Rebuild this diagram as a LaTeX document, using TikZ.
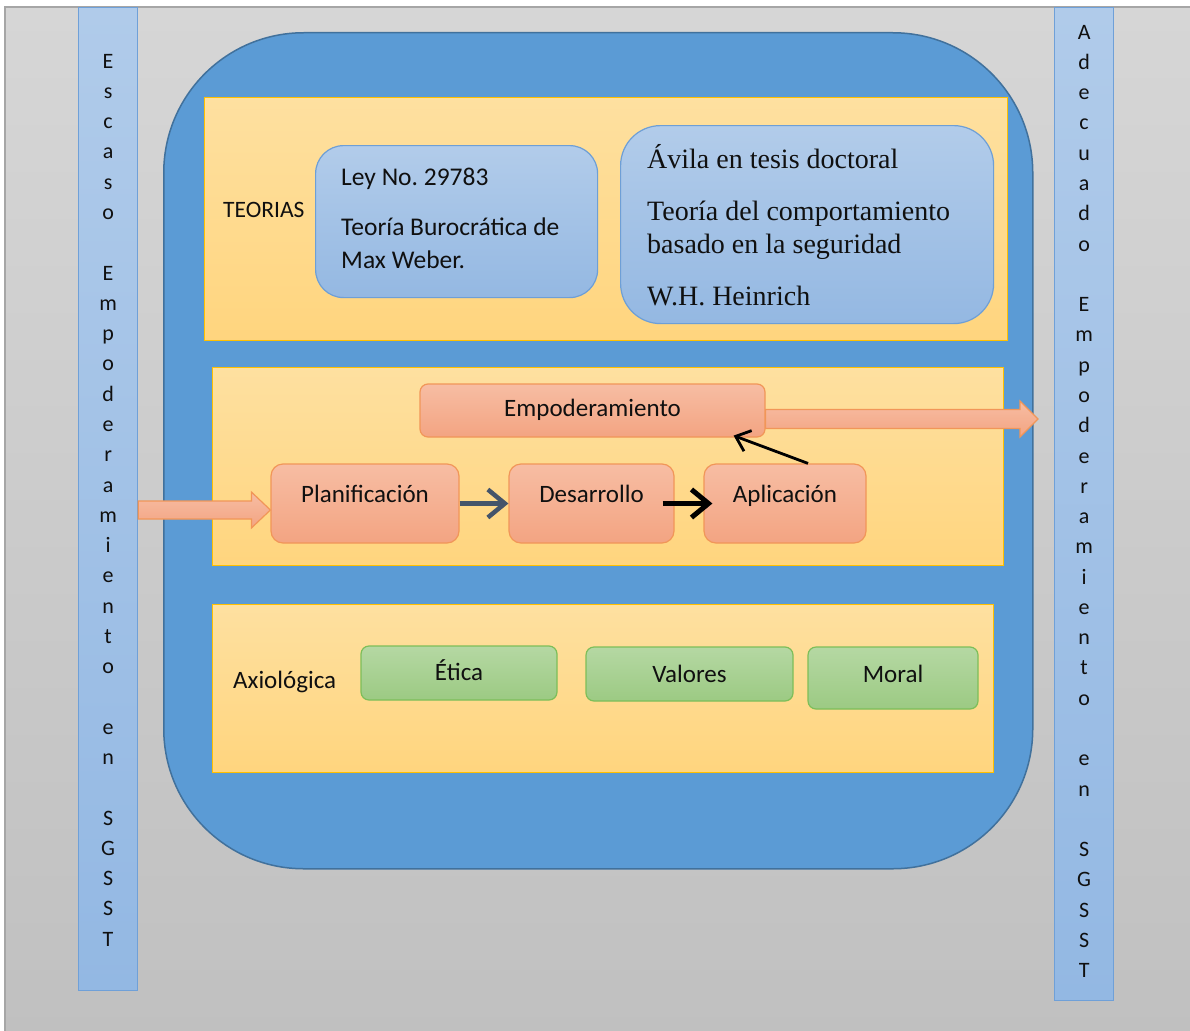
\documentclass[tikz,border=0pt]{standalone}
\usepackage{fontspec}
\setmainfont{Carlito}
\newfontfamily\serifa{Liberation Serif}
\usetikzlibrary{arrows.meta,calc}
\definecolor{bgtop}{HTML}{D6D6D6}
\definecolor{bgbot}{HTML}{C0C0C0}
\definecolor{bgline}{HTML}{A6A6A6}
\definecolor{bartop}{HTML}{B0CBEA}
\definecolor{barbot}{HTML}{93B8E3}
\definecolor{barline}{HTML}{6FA0D8}
\definecolor{bigblue}{HTML}{5B9BD5}
\definecolor{bigline}{HTML}{41719C}
\definecolor{yeltop}{HTML}{FEE0A0}
\definecolor{yelbot}{HTML}{FFD57E}
\definecolor{yelline}{HTML}{FFC000}
\definecolor{bluetop}{HTML}{B2CCEA}
\definecolor{bluebot}{HTML}{94B8E2}
\definecolor{blueline}{HTML}{6E9FD6}
\definecolor{saltop}{HTML}{F7BDA3}
\definecolor{salbot}{HTML}{F3A482}
\definecolor{salline}{HTML}{F19658}
\definecolor{grntop}{HTML}{B5D8A3}
\definecolor{grnbot}{HTML}{9CCA83}
\definecolor{grnline}{HTML}{7DBE59}
\definecolor{arrgray}{HTML}{44546A}
\definecolor{txt}{HTML}{101010}
\begin{document}
\begin{tikzpicture}[x=1pt,y=-1pt,
  every node/.style={text=txt},
  barbox/.style={draw=barline, line width=1.2pt, top color=bartop, bottom color=barbot, anchor=north west, inner sep=0},
  bartext/.style={font=\fontsize{22}{30.28}\selectfont, text width=40pt, align=center, inner sep=0, anchor=north},
  panel/.style={draw=yelline, line width=1.2pt, top color=yeltop, bottom color=yelbot, anchor=north west, inner sep=0},
  bluebox/.style={draw=blueline, line width=1.2pt, top color=bluetop, bottom color=bluebot, anchor=north west, inner sep=0},
  salbox/.style={draw=salline, line width=1.2pt, top color=saltop, bottom color=salbot, inner sep=0, rounded corners=12pt,
    font=\fontsize{25}{30}\selectfont, text height=16pt},
  grnbox/.style={draw=grnline, line width=1.2pt, top color=grntop, bottom color=grnbot, inner sep=0, rounded corners=8pt,
    font=\fontsize{25}{30}\selectfont, text height=16pt},
  sanstext/.style={font=\fontsize{25.5}{30}\selectfont, anchor=base west, inner sep=0},
  seriftext/.style={font=\serifa\fontsize{28}{32}\selectfont, anchor=base west, inner sep=0},
  blockarr/.style={draw=salline, line width=1.2pt, top color=saltop, bottom color=salbot},
]
\useasboundingbox (0,0) rectangle (1190,1030);
\fill[white] (0,0) rectangle (1190,1030);
\draw[draw=bgline, line width=1.5pt, top color=bgtop, bottom color=bgbot] (5,7) rectangle (1200,1040);

% side bars
\node[barbox, minimum width=59pt, minimum height=983pt] (lbar) at (78,7) {};
\node[barbox, minimum width=59pt, minimum height=993pt] (rbar) at (1054,7) {};
\node[bartext] (ltext) at (lbar.north |- 0,53.8) {E\\s\\c\\a\\s\\o\\~\\E\\m\\p\\o\\d\\e\\r\\a\\m\\i\\e\\n\\t\\o\\~\\e\\n\\~\\S\\G\\S\\S\\T};
\node[bartext] (rtext) at (rbar.north |- 0,24.8) {A\\d\\e\\c\\u\\a\\d\\o\\~\\E\\m\\p\\o\\d\\e\\r\\a\\m\\i\\e\\n\\t\\o\\~\\e\\n\\~\\S\\G\\S\\S\\T};

% big blue rounded box
\node[draw=bigline, line width=1.5pt, fill=bigblue, rounded corners=140pt, minimum width=869pt, minimum height=836pt, anchor=north west, inner sep=0] (big) at (163,32) {};

% top panel: theories
\node[panel, minimum width=803pt, minimum height=243pt] (ptop) at (204,97) {};
\node[font=\fontsize{23.5}{26}\selectfont, anchor=base west, inner sep=0] (teorias) at (223,217) {TEORIAS};
\node[bluebox, rounded corners=28pt, minimum width=282pt, minimum height=152pt] (ley) at (315,145) {};
\node[sanstext] (ley1) at (341,185) {Ley No.\ 29783};
\node[sanstext] (ley2) at (341,235.5) {Teoría Burocrática de};
\node[sanstext] (ley3) at (341,268.5) {Max Weber.};
\node[bluebox, rounded corners=40pt, minimum width=373pt, minimum height=198pt] (avila) at (620,125) {};
\node[seriftext] (av1) at (647,168) {Ávila en tesis doctoral};
\node[seriftext] (av2) at (647,220) {Teoría del comportamiento};
\node[seriftext] (av3) at (647,253) {basado en la seguridad};
\node[seriftext] (av4) at (647,305) {W.H. Heinrich};

% middle panel: process
\node[panel, minimum width=791pt, minimum height=198pt] (pmid) at (212,367) {};
\node[salbox, rounded corners=8pt, minimum width=345pt, minimum height=53pt] (empod) at (592.5,410.5) {Empoderamiento};
\node[salbox, minimum width=188pt, minimum height=79pt, text depth=19pt] (plan) at (365,503.5) {Planificación};
\node[salbox, minimum width=165pt, minimum height=79pt, text depth=19pt] (desa) at (591.5,503.5) {Desarrollo};
\node[salbox, minimum width=162pt, minimum height=79pt, text depth=19pt] (apli) at (785,503.5) {Aplicación};

% bottom panel: axiology
\node[panel, minimum width=781pt, minimum height=168pt] (pbot) at (212,604) {};
\node[font=\fontsize{25}{30}\selectfont, anchor=base west, inner sep=0] (axio) at (233,688) {Axiológica};
\node[grnbox, minimum width=196pt, minimum height=54pt, text depth=2pt] (etica) at (459,673) {Ética};
\node[grnbox, minimum width=207pt, minimum height=54pt, text depth=0pt] (valores) at (689.5,674) {Valores};
\node[grnbox, minimum width=170pt, minimum height=62pt, text depth=8pt] (moral) at (893,678) {Moral};

% connectors
\draw[arrgray, line width=4.5pt, -{Straight Barb[length=17pt,width=28pt]}] (plan.east) -- (desa.west);
\draw[black, line width=5pt, -{Straight Barb[length=17pt,width=28pt]}] ([xshift=-12pt]desa.east) -- ([xshift=9pt]apli.west);
\draw[black, line width=2.8pt, -{Straight Barb[length=13pt,width=22pt]}] ([xshift=23pt]apli.north) -- ([xshift=-32pt,yshift=2pt]empod.south east);

% block arrows
\path[blockarr] let \p1=(lbar.east), \p2=([yshift=-6.5pt]plan.west) in
  (\x1,\y2+9pt) -- (\x2-19pt,\y2+9pt) -- (\x2-19pt,\y2+18pt) -- (\x2,\y2)
  -- (\x2-19pt,\y2-18pt) -- (\x2-19pt,\y2-9pt) -- (\x1,\y2-9pt) -- cycle;
\path[blockarr] let \p1=([yshift=-8.5pt]empod.east), \p2=([xshift=-16pt]rbar.west) in
  (\x1,\y1+9.5pt) -- (\x2-18pt,\y1+9.5pt) -- (\x2-18pt,\y1+18pt) -- (\x2,\y1)
  -- (\x2-18pt,\y1-18pt) -- (\x2-18pt,\y1-9.5pt) -- (\x1,\y1-9.5pt) -- cycle;
\end{tikzpicture}
\end{document}
